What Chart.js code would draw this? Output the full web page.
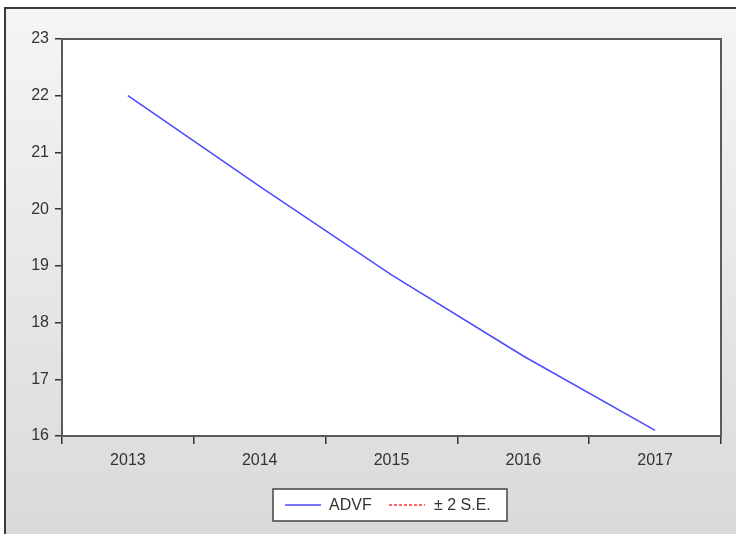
<!DOCTYPE html>
<html>
<head>
<meta charset="utf-8">
<script src="https://cdn.jsdelivr.net/npm/chart.js@4"></script>
<style>
  html, body { margin: 0; padding: 0; background: #fff; }
  #wrap { width: 736px; height: 534px; position: relative; }
</style>
</head>
<body>
<div id="wrap"><canvas id="c" width="736" height="534"></canvas></div>
<script>
// Forecast years and values
const years = ['2013', '2014', '2015', '2016', '2017'];
const advf = [22.0, 20.40, 18.84, 17.41, 16.10];
const seBand = [];            // ± 2 S.E. band (legend only)
const yTicks = [16, 17, 18, 19, 20, 21, 22, 23];

const FONT = '"Liberation Sans", Arial, sans-serif';
const FSIZE = 16;

// Panel background, frame and plot border
const framePlugin = {
  id: 'frame',
  beforeDraw(chart) {
    const { ctx, width, height, chartArea: a } = chart;
    ctx.save();
    ctx.fillStyle = '#ffffff';
    ctx.fillRect(0, 0, width, height);
    const g = ctx.createLinearGradient(0, 8, 0, height);
    g.addColorStop(0, '#f5f5f5');
    g.addColorStop(1, '#dadada');
    ctx.fillStyle = g;
    ctx.fillRect(5, 8, width - 5, height - 8);
    ctx.strokeStyle = '#3a3a3a';
    ctx.lineWidth = 2;
    ctx.beginPath();
    ctx.moveTo(5, height);
    ctx.lineTo(5, 8);
    ctx.lineTo(width, 8);
    ctx.stroke();
    ctx.fillStyle = '#ffffff';
    ctx.fillRect(a.left, a.top, a.right - a.left, a.bottom - a.top);
    ctx.restore();
  },
  afterDatasetsDraw(chart) {
    const { ctx, chartArea: a } = chart;
    ctx.save();
    ctx.strokeStyle = '#5a5a5a';
    ctx.lineWidth = 2;
    ctx.strokeRect(a.left, a.top, a.right - a.left, a.bottom - a.top);
    ctx.restore();
  }
};

// Boxed legend below the axis
const boxLegend = {
  id: 'boxLegend',
  afterDraw(chart) {
    const { ctx } = chart;
    const x0 = 273, y0 = 489, w = 234, h = 32;
    ctx.save();
    ctx.fillStyle = '#ffffff';
    ctx.fillRect(x0, y0, w, h);
    ctx.strokeStyle = '#444';
    ctx.lineWidth = 1.5;
    ctx.strokeRect(x0, y0, w, h);
    ctx.font = FSIZE + 'px ' + FONT;
    ctx.textBaseline = 'middle';
    ctx.fillStyle = '#333';
    const cy = y0 + h / 2;
    const items = [
      { ds: chart.data.datasets[0], lx: 285, tx: 329 },
      { ds: chart.data.datasets[1], lx: 389, tx: 434 }
    ];
    items.forEach(it => {
      ctx.strokeStyle = it.ds.borderColor;
      ctx.lineWidth = 1.5;
      ctx.setLineDash(it.ds.borderDash || []);
      ctx.beginPath();
      ctx.moveTo(it.lx, cy);
      ctx.lineTo(it.lx + 36, cy);
      ctx.stroke();
      ctx.setLineDash([]);
      ctx.fillText(it.ds.label, it.tx, cy + 1);
    });
    ctx.restore();
  }
};

new Chart(document.getElementById('c'), {
  type: 'line',
  data: {
    labels: years,
    datasets: [
      { label: 'ADVF', data: advf, borderColor: '#4d4dff', borderWidth: 1.6,
        pointRadius: 0, tension: 0, fill: false },
      { label: '± 2 S.E.', data: seBand, borderColor: '#ff3030', borderWidth: 1.2,
        borderDash: [3, 2], pointRadius: 0, fill: false }
    ]
  },
  options: {
    responsive: false,
    animation: false,
    devicePixelRatio: 1,
    layout: { padding: { left: 0, top: 39, right: 15, bottom: 0 } },
    plugins: { legend: { display: false }, tooltip: { enabled: false } },
    scales: {
      x: {
        type: 'category',
        offset: true,
        afterFit(s) { s.height = 98; },
        border: { display: false },
        grid: { offset: true, drawOnChartArea: false, drawTicks: true,
                tickLength: 8, color: '#333', lineWidth: 1.5 },
        ticks: { color: '#333', font: { family: FONT, size: FSIZE }, padding: 7,
                 maxRotation: 0 }
      },
      y: {
        min: yTicks[0],
        max: yTicks[yTicks.length - 1],
        afterFit(s) { s.width = 62; },
        afterBuildTicks(s) { s.ticks = yTicks.map(v => ({ value: v })); },
        border: { display: false },
        grid: { drawOnChartArea: false, tickLength: 7, color: '#333', lineWidth: 1.5 },
        ticks: { color: '#333', font: { family: FONT, size: FSIZE }, padding: 6 }
      }
    }
  },
  plugins: [framePlugin, boxLegend]
});
</script>
</body>
</html>
